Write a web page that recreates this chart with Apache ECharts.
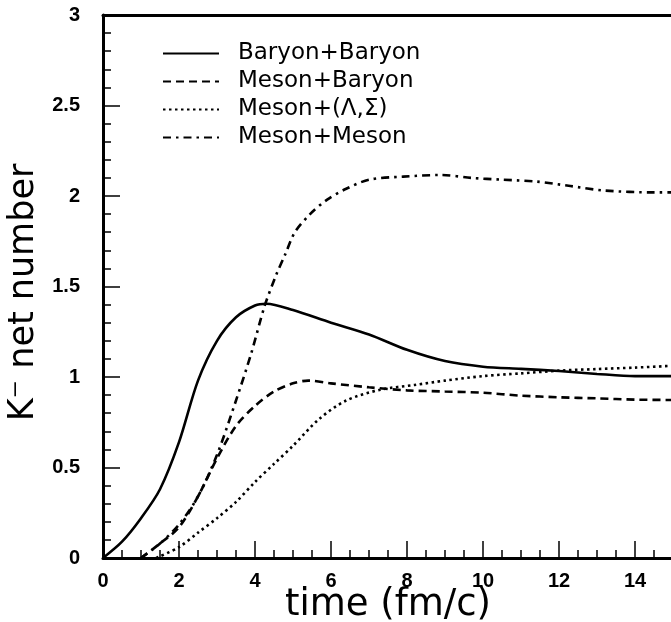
<!DOCTYPE html>
<html>
<head>
<meta charset="utf-8">
<script src="https://cdn.jsdelivr.net/npm/echarts@6/dist/echarts.min.js"></script>
<style>
  html, body { margin: 0; padding: 0; background: #fff; }
</style>
</head>
<body>
<div id="main" style="width: 671px; height: 622px;"></div>
<script>
    // time (fm/c) and K- net number
    var bbTime = [0, 0.5, 1, 1.5, 2, 2.5, 3, 3.5, 4, 4.3, 5, 6, 7, 8, 9, 10, 11, 12, 13, 14, 15];
    var bbValue = [0, 0.09, 0.22, 0.38, 0.64, 0.98, 1.2, 1.33, 1.395, 1.405, 1.37, 1.3, 1.235, 1.15, 1.088, 1.057, 1.045, 1.033, 1.017, 1.005, 1.005];

    var mbTime = [1, 1.5, 2, 2.5, 3, 3.5, 4, 4.5, 5, 5.4, 6, 7, 8, 9, 10, 11, 12, 13, 14, 15];
    var mbValue = [0, 0.08, 0.17, 0.34, 0.55, 0.73, 0.84, 0.92, 0.965, 0.98, 0.965, 0.943, 0.926, 0.92, 0.913, 0.897, 0.888, 0.882, 0.875, 0.873];

    var mlTime = [1.4, 2, 2.5, 3, 3.5, 4, 4.5, 5, 5.7, 6.4, 7.3, 8.2, 9, 10, 11, 12, 13, 14, 15];
    var mlValue = [0, 0.06, 0.14, 0.22, 0.31, 0.42, 0.52, 0.62, 0.77, 0.87, 0.93, 0.956, 0.98, 1.005, 1.02, 1.035, 1.044, 1.052, 1.062];

    var mmTime = [1, 1.5, 2, 2.5, 3, 3.5, 3.9, 4.25, 4.55, 4.8, 5.05, 5.45, 5.9, 6.4, 7, 7.9, 8.9, 9.7, 10.5, 11.4, 12.3, 13.2, 14.5, 15];
    var mmValue = [0, 0.08, 0.185, 0.34, 0.57, 0.87, 1.13, 1.39, 1.56, 1.68, 1.8, 1.9, 1.98, 2.04, 2.09, 2.107, 2.116, 2.1, 2.09, 2.08, 2.055, 2.03, 2.02, 2.02];

    var seriesNames = ['Baryon+Baryon', 'Meson+Baryon', 'Meson+(\u039B,\u03A3)', 'Meson+Meson'];

    function pairs(t, v) {
        return t.map(function (x, i) { return [x, v[i]]; });
    }

    var myChart = echarts.init(document.getElementById('main'));

    var tickFont = {fontFamily: 'Liberation Sans', fontWeight: 'bold', fontSize: 20, color: '#000'};

    function line(name, data, type) {
        return {
            name: name,
            type: 'line',
            data: data,
            smooth: 0.3,
            symbol: 'none',
            lineStyle: {color: '#000', width: 2.6, type: type},
            itemStyle: {color: '#000'}
        };
    }

    var option = {
        animation: false,
        grid: {left: 103, top: 15, right: -2, bottom: 64, outerBoundsMode: 'none', containLabel: false},
        legend: {
            orient: 'vertical',
            left: 162,
            top: 42,
            padding: 0,
            itemWidth: 56,
            itemHeight: 14,
            itemGap: 5,
            itemStyle: {opacity: 0},
            data: seriesNames,
            textStyle: {
                fontFamily: 'DejaVu Sans',
                fontSize: 23,
                lineHeight: 22,
                color: '#000',
                padding: [0, 0, 0, 14]
            }
        },
        xAxis: [{
            type: 'value',
            min: 0,
            max: 15,
            interval: 2,
            name: 'time (fm/c)',
            nameLocation: 'middle',
            nameGap: 29,
            nameMoveOverlap: false,
            nameTextStyle: {fontFamily: 'DejaVu Sans', fontSize: 37, color: '#000'},
            axisLine: {show: true, lineStyle: {color: '#000', width: 3}},
            axisTick: {show: true, inside: true, length: 17, lineStyle: {color: '#000', width: 1.5}},
            minorTick: {show: true, splitNumber: 4, length: 8, lineStyle: {color: '#000', width: 1.5}},
            axisLabel: Object.assign({margin: 13, showMaxLabel: false}, tickFont),
            splitLine: {show: false}
        }, {
            type: 'value',
            position: 'top',
            min: 0,
            max: 15,
            axisLine: {show: true, onZero: false, lineStyle: {color: '#000', width: 3}},
            axisTick: {show: false},
            axisLabel: {show: false},
            splitLine: {show: false}
        }],
        yAxis: {
            type: 'value',
            min: 0,
            max: 3,
            interval: 0.5,
            name: 'K\u207B net number',
            nameLocation: 'middle',
            nameRotate: 90,
            nameGap: 60,
            nameTextStyle: {fontFamily: 'DejaVu Sans', fontSize: 35, color: '#000', padding: [0, 12, 0, 0]},
            axisLine: {show: true, lineStyle: {color: '#000', width: 3}},
            axisTick: {show: true, inside: true, length: 17, lineStyle: {color: '#000', width: 1.5}},
            minorTick: {show: true, splitNumber: 5, length: 8, lineStyle: {color: '#000', width: 1.5}},
            axisLabel: Object.assign({margin: 23}, tickFont),
            splitLine: {show: false}
        },
        series: [
            line(seriesNames[0], pairs(bbTime, bbValue), 'solid'),
            line(seriesNames[1], pairs(mbTime, mbValue), [8, 5]),
            line(seriesNames[2], pairs(mlTime, mlValue), [2.5, 3.5]),
            line(seriesNames[3], pairs(mmTime, mmValue), [8, 5, 2.5, 5])
        ]
    };

    myChart.setOption(option);
</script>
</body>
</html>
